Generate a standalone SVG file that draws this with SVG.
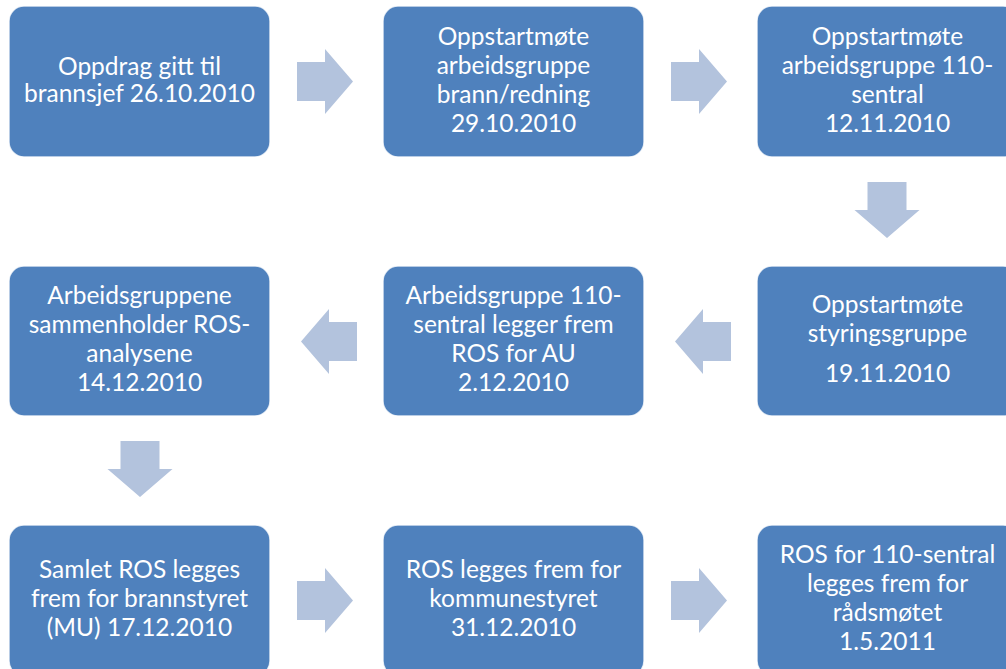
<svg xmlns="http://www.w3.org/2000/svg" width="1006" height="669" viewBox="0 0 1006 669">
<style>
.box{fill:#4F81BD;stroke:#FFFFFF;stroke-width:1.5;stroke-opacity:0.8}
.lbl{font-family:Lato,"Open Sans","Liberation Sans",sans-serif;font-size:24.5px;fill:#FFFFFF;text-anchor:middle}
.arr{fill:#B3C3DD}
</style>
<defs>
<path id="ar" d="M0,-19.5 H28 V-32.5 L56,0 L28,32.5 V19.5 H0 Z"/>
</defs>
<rect width="1006" height="669" fill="#FFFFFF"/>
<g id="connectors">
<use href="#ar" class="arr" transform="translate(297,81.5)"/>
<use href="#ar" class="arr" transform="translate(671,81.5)"/>
<use href="#ar" class="arr" transform="translate(887,182) rotate(90)"/>
<use href="#ar" class="arr" transform="translate(731,341.5) rotate(180)"/>
<use href="#ar" class="arr" transform="translate(357,341.5) rotate(180)"/>
<use href="#ar" class="arr" transform="translate(140,441) rotate(90)"/>
<use href="#ar" class="arr" transform="translate(297,600.5)"/>
<use href="#ar" class="arr" transform="translate(671,600.5)"/>
</g>
<g id="n1"><rect class="box" x="9" y="6" width="261" height="151" rx="15"/>
<text class="lbl" x="139.5"><tspan x="139.5" y="75">Oppdrag gitt til</tspan><tspan x="139.5" y="102">brannsjef 26.10.2010</tspan></text></g>
<g id="n2"><rect class="box" x="383" y="6" width="261" height="151" rx="15"/>
<text class="lbl"><tspan x="513.5" y="45">Oppstartmøte</tspan><tspan x="513.5" y="74">arbeidsgruppe</tspan><tspan x="513.5" y="103">brann/redning</tspan><tspan x="513.5" y="132">29.10.2010</tspan></text></g>
<g id="n3"><rect class="box" x="757" y="6" width="261" height="151" rx="15"/>
<text class="lbl"><tspan x="887.5" y="45">Oppstartmøte</tspan><tspan x="887.5" y="74">arbeidsgruppe 110-</tspan><tspan x="887.5" y="103">sentral</tspan><tspan x="887.5" y="132">12.11.2010</tspan></text></g>
<g id="n4"><rect class="box" x="757" y="266" width="261" height="150" rx="15"/>
<text class="lbl"><tspan x="887.5" y="313">Oppstartmøte</tspan><tspan x="887.5" y="342">styringsgruppe</tspan><tspan x="887.5" y="382">19.11.2010</tspan></text></g>
<g id="n5"><rect class="box" x="383" y="266" width="261" height="150" rx="15"/>
<text class="lbl"><tspan x="513.5" y="304">Arbeidsgruppe 110-</tspan><tspan x="513.5" y="333">sentral legger frem</tspan><tspan x="513.5" y="362">ROS for AU</tspan><tspan x="513.5" y="391">2.12.2010</tspan></text></g>
<g id="n6"><rect class="box" x="9" y="266" width="261" height="150" rx="15"/>
<text class="lbl"><tspan x="139.5" y="304">Arbeidsgruppene</tspan><tspan x="139.5" y="333">sammenholder ROS-</tspan><tspan x="139.5" y="362">analysene</tspan><tspan x="139.5" y="391">14.12.2010</tspan></text></g>
<g id="n7"><rect class="box" x="9" y="525" width="261" height="151" rx="15"/>
<text class="lbl"><tspan x="139.5" y="578">Samlet ROS legges</tspan><tspan x="139.5" y="607">frem for brannstyret</tspan><tspan x="139.5" y="636">(MU) 17.12.2010</tspan></text></g>
<g id="n8"><rect class="box" x="383" y="525" width="261" height="151" rx="15"/>
<text class="lbl"><tspan x="513.5" y="578">ROS legges frem for</tspan><tspan x="513.5" y="607">kommunestyret</tspan><tspan x="513.5" y="636">31.12.2010</tspan></text></g>
<g id="n9"><rect class="box" x="757" y="525" width="261" height="151" rx="15"/>
<text class="lbl"><tspan x="887.5" y="563">ROS for 110-sentral</tspan><tspan x="887.5" y="592">legges frem for</tspan><tspan x="887.5" y="621">rådsmøtet</tspan><tspan x="887.5" y="650">1.5.2011</tspan></text></g>
</svg>
